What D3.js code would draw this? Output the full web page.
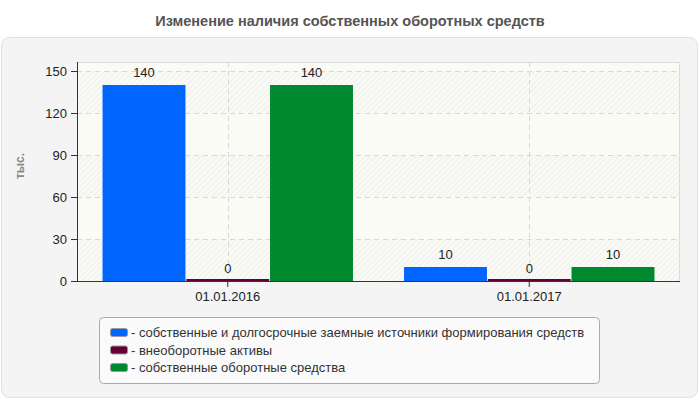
<!DOCTYPE html>
<html>
<head>
<meta charset="utf-8">
<script src="https://cdn.jsdelivr.net/npm/d3@7"></script>
<style>
  body { margin: 0; background: #fff; }
  svg { display: block; font-family: "Liberation Sans", Arial, sans-serif; }
</style>
</head>
<body>
<svg id="chart" width="700" height="400"></svg>
<script>
// Chart data
const chartTitle = "Изменение наличия собственных оборотных средств";
const yTitle = "тыс.";
const dates = ["01.01.2016", "01.01.2017"];
const seriesNames = [
  "собственные и долгосрочные заемные источники формирования средств",
  "внеоборотные активы",
  "собственные оборотные средства"
];
const seriesColors = ["#0066ff", "#660033", "#00882f"];
const ownAndLongTerm = [140, 10];
const nonCurrentAssets = [0, 0];
const ownWorkingCapital = [140, 10];
const yTicks = [0, 30, 60, 90, 120, 150];

const seriesValues = [ownAndLongTerm, nonCurrentAssets, ownWorkingCapital];

const svg = d3.select("#chart");
const plot = { left: 77, top: 62, right: 680, bottom: 281 };

// hatch pattern for alternate bands
const defs = svg.append("defs");
const pat = defs.append("pattern")
  .attr("id", "hatch")
  .attr("patternUnits", "userSpaceOnUse")
  .attr("width", 4).attr("height", 4)
  .attr("patternTransform", "rotate(45)");
pat.append("rect").attr("width", 4).attr("height", 4).attr("fill", "#f9f9f6");
pat.append("line").attr("x1", 0).attr("y1", 0).attr("x2", 0).attr("y2", 4)
  .attr("stroke", "#e9e9e6").attr("stroke-width", 1.2);

// title
svg.append("text")
  .attr("x", 350).attr("y", 26)
  .attr("text-anchor", "middle")
  .attr("font-size", 14.5).attr("font-weight", "bold")
  .attr("fill", "#555")
  .text(chartTitle);

// outer panel
svg.append("rect")
  .attr("x", 1.5).attr("y", 37.5).attr("width", 696).attr("height", 360)
  .attr("rx", 8)
  .attr("fill", "#f4f4f4").attr("stroke", "#e0e0e0");

const x0 = d3.scaleBand()
  .domain(dates)
  .range([plot.left, plot.right]);

const x1 = d3.scaleBand()
  .domain(d3.range(seriesNames.length))
  .range([0, x0.bandwidth()])
  .paddingOuter(0.305)
  .paddingInner(0.01);

const y = d3.scaleLinear()
  .domain([0, 150 * (plot.bottom - plot.top) / 210])
  .range([plot.bottom, plot.top]);

// plot background
svg.append("rect")
  .attr("x", plot.left).attr("y", plot.top)
  .attr("width", plot.right - plot.left).attr("height", plot.bottom - plot.top)
  .attr("fill", "#fbfbf5");

const bands = d3.range(0, yTicks.length - 1).filter(i => i % 2 === 0);
svg.append("g")
  .selectAll("rect")
  .data(bands)
  .join("rect")
  .attr("x", plot.left)
  .attr("width", plot.right - plot.left)
  .attr("y", i => y(yTicks[i + 1]))
  .attr("height", i => y(yTicks[i]) - y(yTicks[i + 1]))
  .attr("fill", "url(#hatch)");

svg.append("path")
  .attr("d", `M${plot.left},${plot.top + 0.5}H${plot.right - 0.5}V${plot.bottom}`)
  .attr("fill", "none").attr("stroke", "#dcdcdc");

// grid
svg.append("g")
  .selectAll("line")
  .data(yTicks.filter(d => d > 0))
  .join("line")
  .attr("x1", plot.left).attr("x2", plot.right)
  .attr("y1", d => Math.round(y(d)) + 0.5).attr("y2", d => Math.round(y(d)) + 0.5)
  .attr("stroke", "#d8d8d8").attr("stroke-dasharray", "5,4");

svg.append("g")
  .selectAll("line")
  .data(dates)
  .join("line")
  .attr("x1", d => Math.round(x0(d) + x0.bandwidth() / 2) + 0.5)
  .attr("x2", d => Math.round(x0(d) + x0.bandwidth() / 2) + 0.5)
  .attr("y1", plot.top).attr("y2", plot.bottom)
  .attr("stroke", "#d8d8d8").attr("stroke-dasharray", "5,4");

// bars
const groups = svg.append("g")
  .selectAll("g")
  .data(dates)
  .join("g")
  .attr("transform", d => `translate(${x0(d)},0)`);

const barData = (d, i) => seriesValues.map((vals, s) => ({ s, v: vals[i] }));

groups.selectAll("rect")
  .data(barData)
  .join("rect")
  .attr("x", d => x1(d.s))
  .attr("width", x1.bandwidth())
  .attr("y", d => Math.min(y(d.v), plot.bottom - 2))
  .attr("height", d => Math.max(plot.bottom - y(d.v), 2))
  .attr("fill", d => seriesColors[d.s]);

groups.selectAll("text")
  .data(barData)
  .join("text")
  .attr("x", d => x1(d.s) + x1.bandwidth() / 2)
  .attr("y", d => y(d.v) - 8)
  .attr("text-anchor", "middle")
  .attr("font-size", 13).attr("fill", "#222")
  .text(d => d.v);

// axes
const yAxis = svg.append("g")
  .attr("transform", `translate(${plot.left},0)`)
  .call(d3.axisLeft(y).tickValues(yTicks).tickSize(6).tickPadding(4));
yAxis.select(".domain").attr("d", `M0.5,${plot.top}V${plot.bottom + 0.5}`).attr("stroke", "#333");
yAxis.selectAll(".tick line").attr("stroke", "#333");
yAxis.selectAll(".tick text").attr("font-size", 13).attr("fill", "#222")
  .attr("font-family", "'Liberation Sans', Arial, sans-serif");

const xAxis = svg.append("g")
  .attr("transform", `translate(0,${plot.bottom})`)
  .call(d3.axisBottom(x0).tickSize(6).tickPadding(5));
xAxis.select(".domain").attr("d", `M${plot.left},0.5H${plot.right}`).attr("stroke", "#333");
xAxis.selectAll(".tick line").attr("stroke", "#333");
xAxis.selectAll(".tick text").attr("font-size", 13).attr("fill", "#222")
  .attr("font-family", "'Liberation Sans', Arial, sans-serif");

// y axis title
svg.append("text")
  .attr("transform", "translate(24,166) rotate(-90)")
  .attr("text-anchor", "middle")
  .attr("font-size", 12).attr("font-weight", "bold")
  .attr("fill", "#888")
  .text(yTitle);

// legend
const legend = svg.append("g");
legend.append("rect")
  .attr("x", 99.5).attr("y", 317.5).attr("width", 500).attr("height", 66)
  .attr("rx", 4)
  .attr("fill", "#fafafa").attr("stroke", "#aaa");

const items = legend.selectAll("g")
  .data(seriesNames)
  .join("g")
  .attr("transform", (d, i) => `translate(110,${332 + i * 17.5})`);

items.append("rect")
  .attr("x", 0.5).attr("y", -3.5).attr("width", 17).attr("height", 8)
  .attr("rx", 2)
  .attr("fill", (d, i) => seriesColors[i])
  .attr("stroke", "#999");

items.append("text")
  .attr("x", 21).attr("y", 5)
  .attr("font-size", 13).attr("fill", "#333")
  .text(d => "- " + d);
</script>
</body>
</html>
